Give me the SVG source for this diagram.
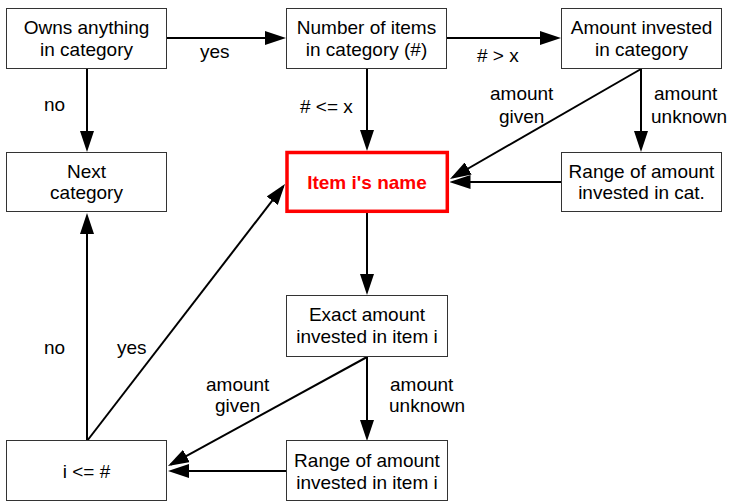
<svg xmlns="http://www.w3.org/2000/svg" width="729" height="502" viewBox="0 0 729 502">
<defs>
<marker id="ah" markerUnits="userSpaceOnUse" markerWidth="21" markerHeight="14" refX="18" refY="7" orient="auto">
<path d="M0,0 L21,7 L0,14 z" fill="#000"/>
</marker>
<style>
.box{fill:#fff;stroke:#333;stroke-width:1}
.hl{fill:#fff;stroke:#ff0000;stroke-width:3.5}
.t{font-family:"Liberation Sans",Arial,sans-serif;font-size:19px;fill:#000;text-anchor:middle}
.l{font-family:"Liberation Sans",Arial,sans-serif;font-size:19px;fill:#000}
.r{font-family:"Liberation Sans",Arial,sans-serif;font-size:19px;font-weight:bold;fill:#ff0000;text-anchor:middle}
.c line{stroke:#000;stroke-width:2;marker-end:url(#ah)}
</style>
</defs>
<rect width="729" height="502" fill="#fff"/>
<g id="connectors" class="c">
<line x1="167" y1="38" x2="283" y2="38"/>
<line x1="447" y1="38" x2="558" y2="38"/>
<line x1="87" y1="69" x2="87" y2="149"/>
<line x1="367" y1="69" x2="367" y2="148"/>
<line x1="641" y1="69" x2="452.6" y2="177.5"/>
<line x1="641" y1="69" x2="641" y2="149"/>
<line x1="561" y1="182" x2="452.5" y2="182"/>
<line x1="367" y1="213" x2="367" y2="292"/>
<line x1="367" y1="357" x2="367" y2="438"/>
<line x1="367" y1="357" x2="170.6" y2="464.6"/>
<line x1="286" y1="471" x2="171" y2="471"/>
<line x1="87" y1="441" x2="87" y2="216"/>
<line x1="87" y1="441" x2="283.2" y2="186.4"/>
</g>
<g id="labels">
<text class="l" x="200" y="58">yes</text>
<text class="l" x="44" y="111">no</text>
<text class="l" x="300" y="113"># &lt;= x</text>
<text class="l" x="477" y="62"># &gt; x</text>
<text class="l" x="490" y="100">amount</text>
<text class="l" x="499" y="123">given</text>
<text class="l" x="654" y="100">amount</text>
<text class="l" x="651" y="123">unknown</text>
<text class="l" x="44" y="354">no</text>
<text class="l" x="117" y="354">yes</text>
<text class="l" x="206" y="391">amount</text>
<text class="l" x="215" y="412">given</text>
<text class="l" x="390" y="391">amount</text>
<text class="l" x="389" y="412">unknown</text>
</g>
<g id="owns"><rect class="box" x="6.5" y="8.5" width="160" height="60"/><text class="t" x="86.5" y="34">Owns anything</text><text class="t" x="86.5" y="56">in category</text></g>
<g id="number"><rect class="box" x="286.5" y="8.5" width="160" height="60"/><text class="t" x="366.5" y="34">Number of items</text><text class="t" x="366.5" y="56">in category (#)</text></g>
<g id="amountcat"><rect class="box" x="561.5" y="8.5" width="160" height="60"/><text class="t" x="641.5" y="34">Amount invested</text><text class="t" x="641.5" y="56">in category</text></g>
<g id="next"><rect class="box" x="6.5" y="152.5" width="160" height="59"/><text class="t" x="86.5" y="178">Next</text><text class="t" x="86.5" y="199">category</text></g>
<g id="item"><rect class="hl" x="287" y="152.5" width="160.3" height="58.8"/><text class="r" x="367" y="189">Item i's name</text></g>
<g id="rangecat"><rect class="box" x="561.5" y="152.5" width="160" height="59"/><text class="t" x="641.5" y="178">Range of amount</text><text class="t" x="641.5" y="199">invested in cat.</text></g>
<g id="exact"><rect class="box" x="286.5" y="295.5" width="161" height="61"/><text class="t" x="367" y="321">Exact amount</text><text class="t" x="367" y="343">invested in item i</text></g>
<g id="ilex"><rect class="box" x="6.5" y="440.5" width="160" height="60"/><text class="t" x="86.5" y="478">i &lt;= #</text></g>
<g id="rangeitem"><rect class="box" x="286.5" y="440.5" width="161" height="60"/><text class="t" x="367" y="467">Range of amount</text><text class="t" x="367" y="489">invested in item i</text></g>
</svg>
